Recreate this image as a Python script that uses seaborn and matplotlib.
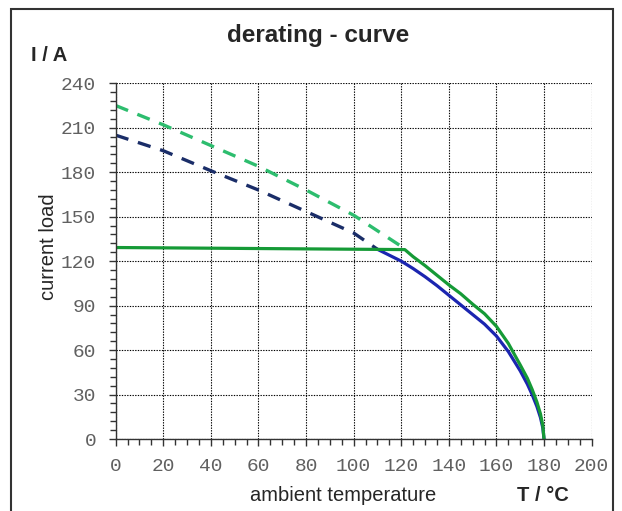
import matplotlib
matplotlib.use("Agg")
import matplotlib.pyplot as plt
from matplotlib.patches import Rectangle
from matplotlib.ticker import MultipleLocator
import seaborn as sns
import pandas as pd

# ---- data ----
temp_dash_green = [0, 20, 40, 60, 80, 100, 120]
cur_dash_green = [225, 212, 198, 184, 168, 151, 130]

temp_dash_navy = [0, 20, 40, 60, 80, 100, 110]
cur_dash_navy = [205, 194.5, 181, 168, 153.5, 139, 128]

temp_green = [0, 121.5, 125, 130, 135, 140, 145, 150, 155, 160, 165, 170,
              173, 175, 177, 178.5, 179.5, 180]
cur_green = [129.2, 127.8, 123, 117, 110.5, 104, 98, 91, 84.5, 76, 64.5, 50,
             41, 33.5, 25, 17, 9, 0]

temp_blue = [110, 115, 120, 125, 130, 135, 140, 145, 150, 155, 160, 165, 170,
             173, 175, 177, 178.5, 179.5, 180]
cur_blue = [128, 124, 120, 115, 109.5, 103.5, 97, 90.5, 84, 77.5, 69.5, 59,
            46, 37, 30, 22, 14.5, 7.5, 0]

x_ticks = [0, 20, 40, 60, 80, 100, 120, 140, 160, 180, 200]
y_ticks = [0, 30, 60, 90, 120, 150, 180, 210, 240]

sns.set_style("white")
plt.rcParams['font.family'] = ['Liberation Sans', 'DejaVu Sans']

W, H = 622, 511
fig = plt.figure(figsize=(W / 100, H / 100), dpi=100)
ax = fig.add_axes([115.7 / W, 1 - 439 / H, (591.6 - 115.7) / W, (439 - 83.3) / H])

def df(x, y):
    return pd.DataFrame({"T": x, "I": y})

kw = dict(x="T", y="I", ax=ax, estimator=None, sort=False, legend=False)
sns.lineplot(data=df(temp_dash_green, cur_dash_green), color="#2dbd6e", lw=2.4,
             linestyle=(0, (4, 3)), **kw)
sns.lineplot(data=df(temp_dash_navy, cur_dash_navy), color="#1a2d68", lw=2.4,
             linestyle=(0, (4, 3)), **kw)
sns.lineplot(data=df(temp_blue, cur_blue), color="#1b25b0", lw=2.3, **kw)
sns.lineplot(data=df(temp_green, cur_green), color="#159a36", lw=2.3, **kw)

ax.set_xlim(0, 200)
ax.set_ylim(0, 240)
ax.set_xticks(x_ticks)
ax.set_yticks(y_ticks)
ax.xaxis.set_minor_locator(MultipleLocator(5))
ax.yaxis.set_minor_locator(MultipleLocator(6))
ax.grid(True, which="major", color="black", lw=0.8, linestyle=(0, (1.2, 1.2)))
ax.set_axisbelow(True)
for s in ["top", "right"]:
    ax.spines[s].set_visible(False)
for s in ["left", "bottom"]:
    ax.spines[s].set_color("#333333")
    ax.spines[s].set_linewidth(1.0)
ax.tick_params(which="major", direction="out", length=5, width=1, color="#333333",
               labelsize=14, labelcolor="#606060", pad=9, left=True, bottom=True)
ax.tick_params(which="minor", direction="out", length=4, width=1, color="#333333",
               left=True, bottom=True)
for lab in ax.get_xticklabels() + ax.get_yticklabels():
    lab.set_fontfamily("Liberation Mono")
ax.set_xlabel("")
ax.set_ylabel("")

fig.text(318 / W, 1 - 35 / H, "derating - curve", ha="center", va="center",
         fontsize=17.5, fontweight="bold")
fig.text(49 / W, 1 - 55 / H, "I / A", ha="center", va="center",
         fontsize=14.5, fontweight="bold")
fig.text(48 / W, 1 - 247 / H, "current load", ha="center", va="center",
         rotation=90, fontsize=14.5)
fig.text(343 / W, 1 - 495 / H, "ambient temperature", ha="center", va="center",
         fontsize=14.5)
fig.text(543 / W, 1 - 495 / H, "T / °C", ha="center", va="center",
         fontsize=14.5, fontweight="bold")

fig.add_artist(Rectangle((11 / W, -0.05), (613 - 11) / W, 1 - 9 / H + 0.05,
                         transform=fig.transFigure, fill=False, lw=1.5,
                         ec="#333333"))

fig.savefig("out.png", dpi=100)
